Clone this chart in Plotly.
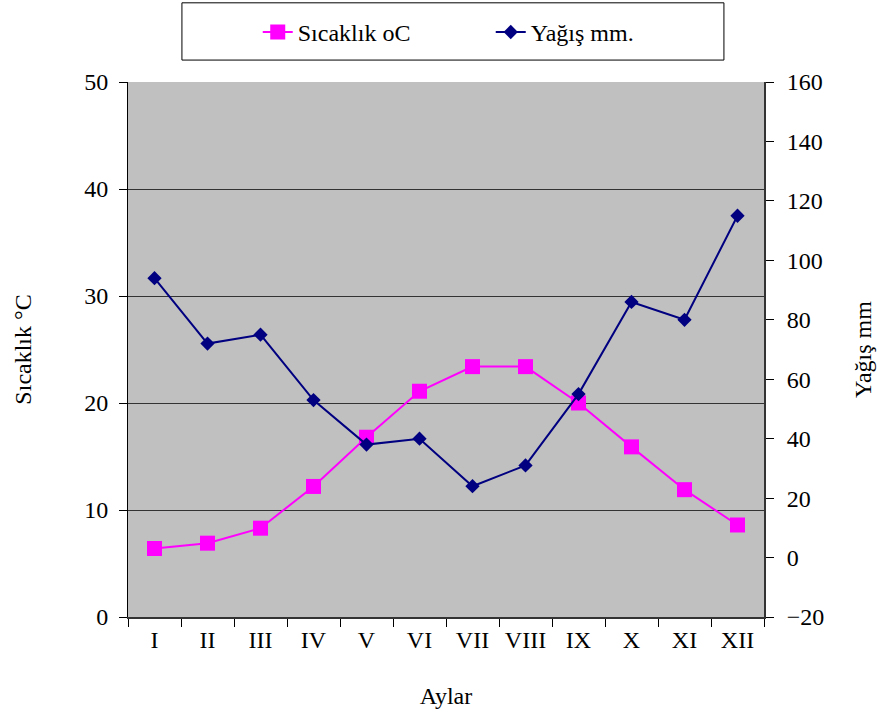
import plotly.graph_objects as go

months = ["I", "II", "III", "IV", "V", "VI", "VII", "VIII", "IX", "X", "XI", "XII"]
sicaklik = [6.4, 6.9, 8.3, 12.2, 16.8, 21.1, 23.4, 23.4, 20.0, 15.9, 11.9, 8.6]
yagis = [94, 72, 75, 53, 38, 40, 24, 31, 55, 86, 80, 115]

FONT = "Liberation Serif"
F = dict(family=FONT, size=24, color="black")

fig = go.Figure()
fig.add_trace(go.Scatter(
    x=months, y=sicaklik, name="Sıcaklık oC", mode="lines+markers",
    line=dict(color="#FF00FF", width=2),
    marker=dict(symbol="square", size=15, color="#FF00FF"),
))
fig.add_trace(go.Scatter(
    x=months, y=yagis, name="Yağış mm.", mode="lines+markers", yaxis="y2",
    line=dict(color="#000080", width=2),
    marker=dict(symbol="diamond", size=11, color="#000080"),
))

fig.update_layout(
    width=882, height=720,
    margin=dict(l=128, r=118, t=82, b=103, autoexpand=False),
    paper_bgcolor="white",
    plot_bgcolor="#C0C0C0",
    font=F,
    showlegend=True,
    legend=dict(
        orientation="h", x=0.204, xanchor="left",
        yref="container", y=0.955, yanchor="middle",
        font=F, entrywidth=188,
        bgcolor="rgba(0,0,0,0)", borderwidth=0,
    ),
    xaxis=dict(
        type="category", range=[-0.5, 11.5], tickson="boundaries",
        ticks="outside", ticklen=8, tickcolor="black",
        showline=True, linecolor="#333333", linewidth=2,
        showgrid=False, title=dict(text="Aylar", font=F, standoff=35),
        tickfont=F,
    ),
    xaxis2=dict(
        overlaying="x", anchor="y", side="bottom", range=[-0.5, 11.5],
        tickmode="linear", tick0=-0.5, dtick=1, ticks="inside", ticklen=8,
        tickcolor="black", showticklabels=False, showgrid=False,
        showline=False, zeroline=False,
    ),
    yaxis=dict(
        range=[0, 50], dtick=10, ticks="outside", ticklen=8, tickcolor="black",
        showline=True, linecolor="black", linewidth=1,
        showgrid=True, gridcolor="#333333", gridwidth=1, zeroline=False,
        title=dict(text="Sıcaklık °C", font=F, standoff=45),
        tickfont=F, ticklabelstandoff=6,
    ),
    yaxis2=dict(
        range=[-20, 160], dtick=20, overlaying="y", side="right",
        ticks="outside", ticklen=8, tickcolor="black",
        showline=True, linecolor="#333333", linewidth=2,
        showgrid=False, zeroline=False,
        title=dict(text="Yağış mm", font=F, standoff=31),
        tickfont=F, ticklabelstandoff=8,
    ),
    yaxis3=dict(
        range=[-20, 160], tickmode="linear", tick0=-20, dtick=20,
        overlaying="y", side="right", anchor="x",
        ticks="inside", ticklen=8, tickcolor="black",
        showticklabels=False, showline=False, showgrid=False, zeroline=False,
    ),
    shapes=[dict(
        type="rect", xref="paper", yref="paper",
        x0=0.0848, x1=0.937, y0=1.041, y1=1.148,
        line=dict(color="black", width=1), fillcolor="rgba(0,0,0,0)",
    )],
)

fig.write_html("out.html")
